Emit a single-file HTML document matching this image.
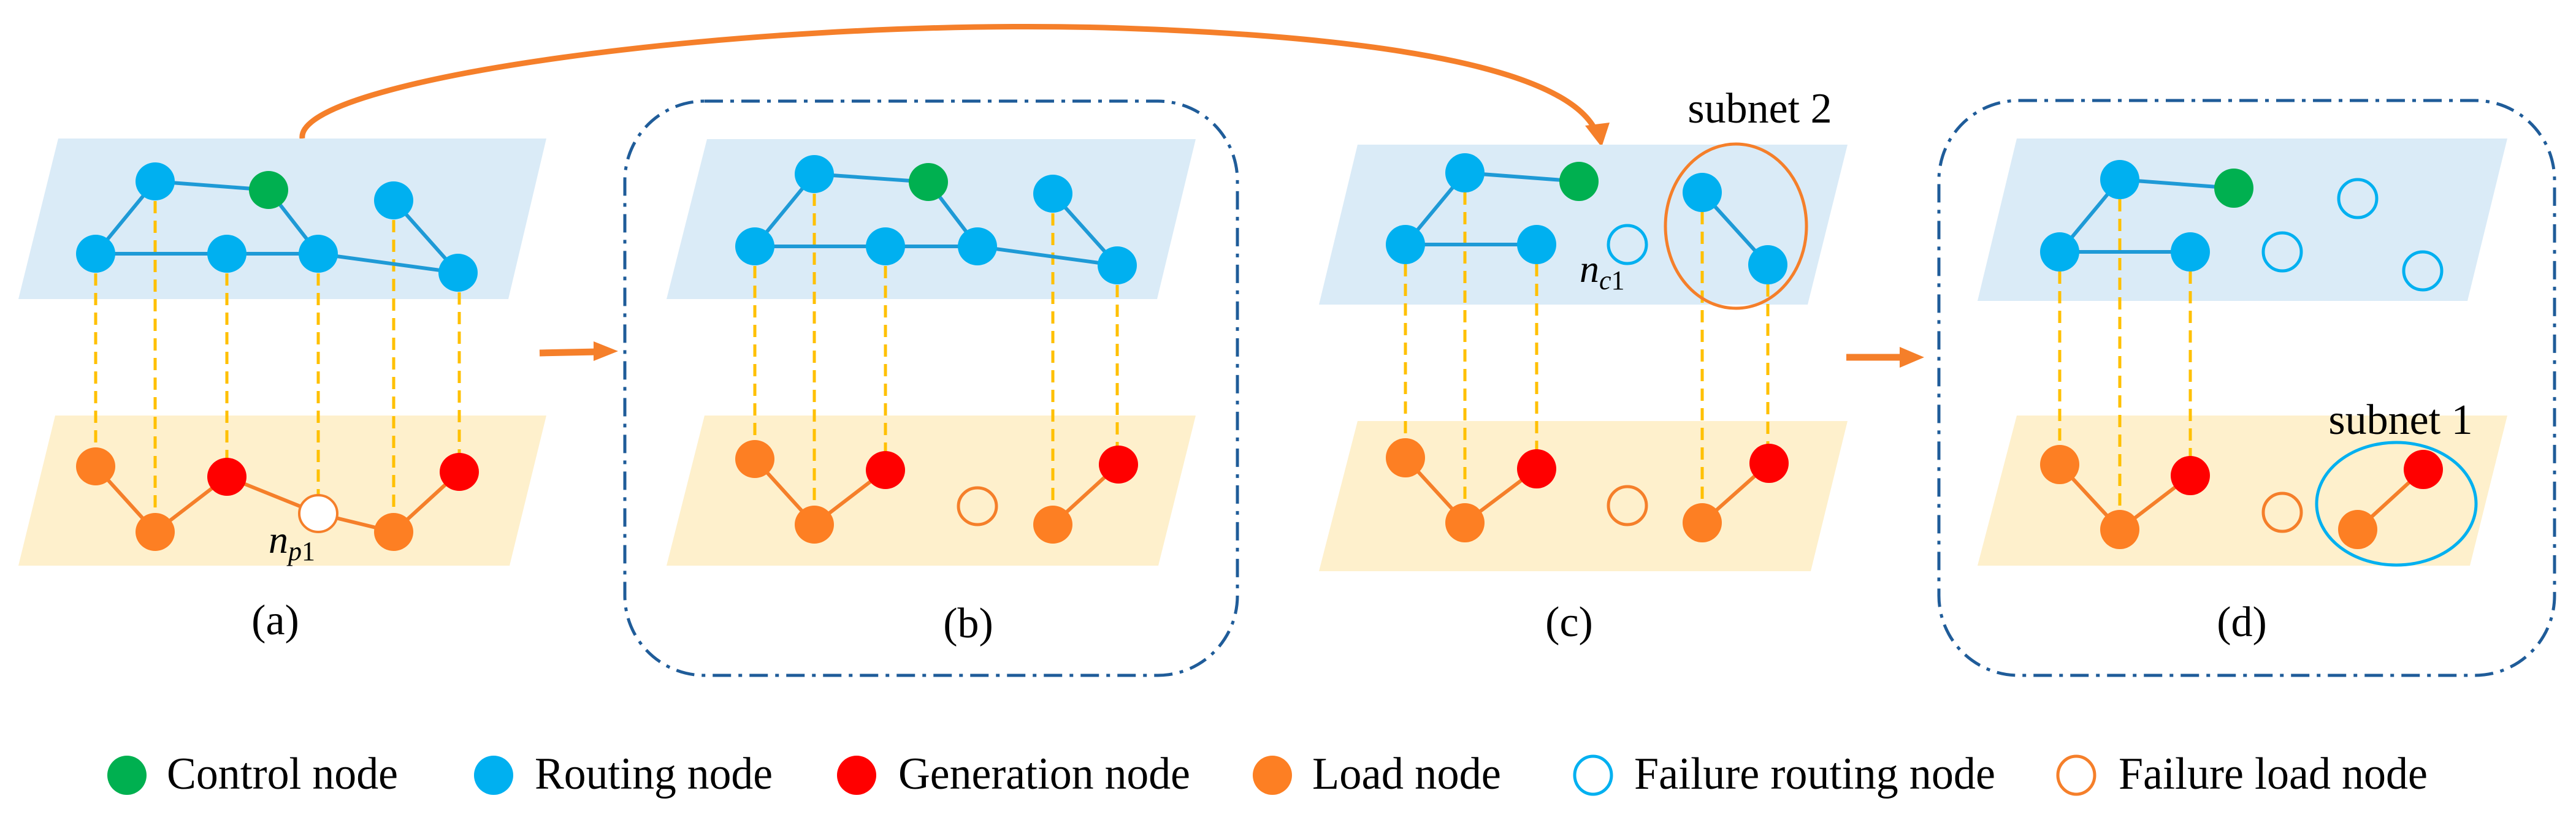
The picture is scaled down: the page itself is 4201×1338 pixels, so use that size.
<!DOCTYPE html>
<html><head><meta charset="utf-8"><style>html,body{margin:0;padding:0;background:#fff}svg{display:block}text{font-family:"Liberation Serif",serif}</style></head>
<body>
<svg width="4201" height="1338" viewBox="0 0 4201 1338" xmlns="http://www.w3.org/2000/svg">
<defs>
<style>
.bp{fill:#DAEBF7}.yp{fill:#FEF0CC}
.be{stroke:#1E9AD6;stroke-width:6;fill:none}
.oe{stroke:#F57F2A;stroke-width:6;fill:none}
.dl{stroke:#FFC000;stroke-width:5;stroke-dasharray:20 12;fill:none}
.box{stroke:#1F5C99;stroke-width:5;fill:none;stroke-dasharray:30 12 6 12}
.B{fill:#00B0F0}.G{fill:#00B050}.R{fill:#FF0000}.O{fill:#FD7F23}
.HB{fill:none;stroke:#00B0F0;stroke-width:5}.HO{fill:none;stroke:#F57F2A;stroke-width:5}
</style>
</defs>

<path d="M493 226 C480 130 1200 30 1800 45 C2300 60 2560 120 2603 215" fill="none" stroke="#F57F2A" stroke-width="9"/>
<polygon points="2585,205 2625,200 2612,240" fill="#F57F2A"/>

<line x1="880" y1="576" x2="975" y2="574" stroke="#F57F2A" stroke-width="11"/>
<polygon points="968,557 1008,573 968,589" fill="#F57F2A"/>
<line x1="3011" y1="583" x2="3105" y2="583" stroke="#F57F2A" stroke-width="11"/>
<polygon points="3098,566 3138,583 3098,600" fill="#F57F2A"/>

<rect x="1019" y="165" width="999" height="937" rx="130" class="box"/>
<rect x="3162" y="164" width="1004" height="938" rx="130" class="box"/>

<!-- Panel a -->
<polygon class="bp" points="95,226 891,226 829,488 30,488"/>
<polygon class="yp" points="90,678 891,678 831,923 30,923"/>
<g class="dl">
<line x1="156" y1="414" x2="156" y2="761"/><line x1="253" y1="296" x2="253" y2="868"/>
<line x1="370" y1="414" x2="370" y2="778"/><line x1="519" y1="414" x2="519" y2="838"/>
<line x1="642" y1="327" x2="642" y2="868"/><line x1="749" y1="445" x2="749" y2="770"/>
</g>
<g class="be"><polyline points="156,414 253,296 438,310 519,414"/><polyline points="156,414 519,414 747,445 642,327"/></g>
<g class="oe"><polyline points="156,761 253,868 370,778 519,838 642,868 749,770"/></g>
<ellipse class="B" cx="253" cy="296" rx="32" ry="31"/><ellipse class="G" cx="438" cy="310" rx="32" ry="31"/>
<ellipse class="B" cx="156" cy="414" rx="32" ry="31"/><ellipse class="B" cx="370" cy="414" rx="32" ry="31"/>
<ellipse class="B" cx="519" cy="414" rx="32" ry="31"/><ellipse class="B" cx="642" cy="327" rx="32" ry="31"/>
<ellipse class="B" cx="747" cy="445" rx="32" ry="31"/>
<ellipse class="O" cx="156" cy="761" rx="32" ry="31"/><ellipse class="O" cx="253" cy="868" rx="32" ry="31"/>
<ellipse class="R" cx="370" cy="778" rx="32" ry="31"/><ellipse cx="519" cy="838" rx="31" ry="30" fill="#fff" stroke="#F57F2A" stroke-width="4"/>
<ellipse class="O" cx="642" cy="868" rx="32" ry="31"/><ellipse class="R" cx="749" cy="770" rx="32" ry="31"/>
<text x="438" y="902" font-size="64" font-style="italic">n<tspan font-size="44" dy="12">p</tspan><tspan font-size="44" font-style="normal">1</tspan></text>
<text x="449" y="1035" font-size="70" text-anchor="middle">(a)</text>

<!-- Panel b -->
<polygon class="bp" points="1153,227 1950,227 1887,488 1087,488"/>
<polygon class="yp" points="1149,678 1950,678 1889,923 1087,923"/>
<g class="dl">
<line x1="1231" y1="402" x2="1231" y2="749"/><line x1="1328" y1="284" x2="1328" y2="856"/>
<line x1="1444" y1="402" x2="1444" y2="767"/><line x1="1717" y1="316" x2="1717" y2="856"/>
<line x1="1822" y1="433" x2="1822" y2="758"/>
</g>
<g class="be"><polyline points="1231,402 1328,284 1514,297 1594,402"/><polyline points="1231,402 1594,402 1822,433 1717,316"/></g>
<g class="oe"><polyline points="1231,749 1328,856 1444,767"/><line x1="1717" y1="856" x2="1824" y2="758"/></g>
<ellipse class="B" cx="1328" cy="284" rx="32" ry="31"/><ellipse class="G" cx="1514" cy="297" rx="32" ry="31"/>
<ellipse class="B" cx="1231" cy="402" rx="32" ry="31"/><ellipse class="B" cx="1444" cy="402" rx="32" ry="31"/>
<ellipse class="B" cx="1594" cy="402" rx="32" ry="31"/><ellipse class="B" cx="1717" cy="316" rx="32" ry="31"/>
<ellipse class="B" cx="1822" cy="433" rx="32" ry="31"/>
<ellipse class="O" cx="1231" cy="749" rx="32" ry="31"/><ellipse class="O" cx="1328" cy="856" rx="32" ry="31"/>
<ellipse class="R" cx="1444" cy="767" rx="32" ry="31"/><ellipse class="HO" cx="1594" cy="826" rx="31" ry="30"/>
<ellipse class="O" cx="1717" cy="856" rx="32" ry="31"/><ellipse class="R" cx="1824" cy="758" rx="32" ry="31"/>
<text x="1579" y="1040" font-size="70" text-anchor="middle">(b)</text>

<!-- Panel c -->
<polygon class="bp" points="2214,236 3013,236 2948,497 2151,497"/>
<polygon class="yp" points="2214,687 3013,687 2953,932 2151,932"/>
<g class="dl">
<line x1="2292" y1="399" x2="2292" y2="747"/><line x1="2389" y1="282" x2="2389" y2="853"/>
<line x1="2506" y1="399" x2="2506" y2="765"/><line x1="2776" y1="314" x2="2776" y2="853"/>
<line x1="2883" y1="432" x2="2883" y2="756"/>
</g>
<g class="be"><polyline points="2575,296 2389,282 2292,399 2506,399"/><line x1="2776" y1="314" x2="2883" y2="432"/></g>
<g class="oe"><polyline points="2292,747 2389,853 2506,765"/><line x1="2776" y1="853" x2="2885" y2="756"/></g>
<ellipse class="B" cx="2389" cy="282" rx="32" ry="32"/><ellipse class="G" cx="2575" cy="296" rx="32" ry="32"/>
<ellipse class="B" cx="2292" cy="399" rx="32" ry="32"/><ellipse class="B" cx="2506" cy="399" rx="32" ry="32"/>
<ellipse class="HB" cx="2654" cy="399" rx="31" ry="31"/>
<ellipse class="B" cx="2776" cy="314" rx="32" ry="32"/><ellipse class="B" cx="2883" cy="432" rx="32" ry="32"/>
<ellipse class="O" cx="2292" cy="747" rx="32" ry="32"/><ellipse class="O" cx="2389" cy="853" rx="32" ry="32"/>
<ellipse class="R" cx="2506" cy="765" rx="32" ry="32"/><ellipse class="HO" cx="2654" cy="825" rx="31" ry="31"/>
<ellipse class="O" cx="2776" cy="853" rx="32" ry="32"/><ellipse class="R" cx="2885" cy="756" rx="32" ry="32"/>
<ellipse cx="2831" cy="369" rx="115" ry="134" fill="none" stroke="#F57F2A" stroke-width="5"/>
<text x="2870" y="200" font-size="70" text-anchor="middle">subnet 2</text>
<text x="2576" y="460" font-size="64" font-style="italic">n<tspan font-size="44" dy="12">c</tspan><tspan font-size="44" font-style="normal">1</tspan></text>
<text x="2559" y="1038" font-size="70" text-anchor="middle">(c)</text>

<!-- Panel d -->
<polygon class="bp" points="3289,226 4089,226 4024,491 3225,491"/>
<polygon class="yp" points="3289,678 4089,678 4028,923 3225,923"/>
<g class="dl">
<line x1="3359" y1="411" x2="3359" y2="758"/><line x1="3457" y1="293" x2="3457" y2="864"/>
<line x1="3572" y1="411" x2="3572" y2="776"/>
</g>
<g class="be"><polyline points="3643,307 3457,293 3359,411 3572,411"/></g>
<g class="oe"><polyline points="3359,758 3457,864 3572,776"/><line x1="3845" y1="864" x2="3952" y2="766"/></g>
<ellipse class="B" cx="3457" cy="293" rx="32" ry="32"/><ellipse class="G" cx="3643" cy="307" rx="32" ry="32"/>
<ellipse class="B" cx="3359" cy="411" rx="32" ry="32"/><ellipse class="B" cx="3572" cy="411" rx="32" ry="32"/>
<ellipse class="HB" cx="3845" cy="324" rx="31" ry="31"/><ellipse class="HB" cx="3722" cy="411" rx="31" ry="31"/>
<ellipse class="HB" cx="3951" cy="442" rx="31" ry="31"/>
<ellipse class="O" cx="3359" cy="758" rx="32" ry="32"/><ellipse class="O" cx="3457" cy="864" rx="32" ry="32"/>
<ellipse class="R" cx="3572" cy="776" rx="32" ry="32"/><ellipse class="HO" cx="3722" cy="836" rx="31" ry="31"/>
<ellipse class="O" cx="3845" cy="864" rx="32" ry="32"/><ellipse class="R" cx="3952" cy="766" rx="32" ry="32"/>
<ellipse cx="3908" cy="822" rx="130" ry="100" fill="none" stroke="#00B0F0" stroke-width="5"/>
<text x="3915" y="708" font-size="70" text-anchor="middle">subnet 1</text>
<text x="3656" y="1038" font-size="70" text-anchor="middle">(d)</text>

<!-- Legend -->
<g font-size="74">
<ellipse class="G" cx="207" cy="1265" rx="32" ry="32"/><text x="272" y="1287" textLength="377" lengthAdjust="spacingAndGlyphs">Control node</text>
<ellipse class="B" cx="805" cy="1265" rx="32" ry="32"/><text x="872" y="1287" textLength="388" lengthAdjust="spacingAndGlyphs">Routing node</text>
<ellipse class="R" cx="1397" cy="1265" rx="32" ry="32"/><text x="1465" y="1287" textLength="476" lengthAdjust="spacingAndGlyphs">Generation node</text>
<ellipse class="O" cx="2075" cy="1265" rx="32" ry="32"/><text x="2140" y="1287" textLength="308" lengthAdjust="spacingAndGlyphs">Load node</text>
<ellipse class="HB" cx="2598" cy="1265" rx="30" ry="31"/><text x="2665" y="1287" textLength="589" lengthAdjust="spacingAndGlyphs">Failure routing node</text>
<ellipse class="HO" cx="3386" cy="1265" rx="30" ry="31"/><text x="3455" y="1287" textLength="504" lengthAdjust="spacingAndGlyphs">Failure load node</text>
</g>
</svg>
</body></html>
